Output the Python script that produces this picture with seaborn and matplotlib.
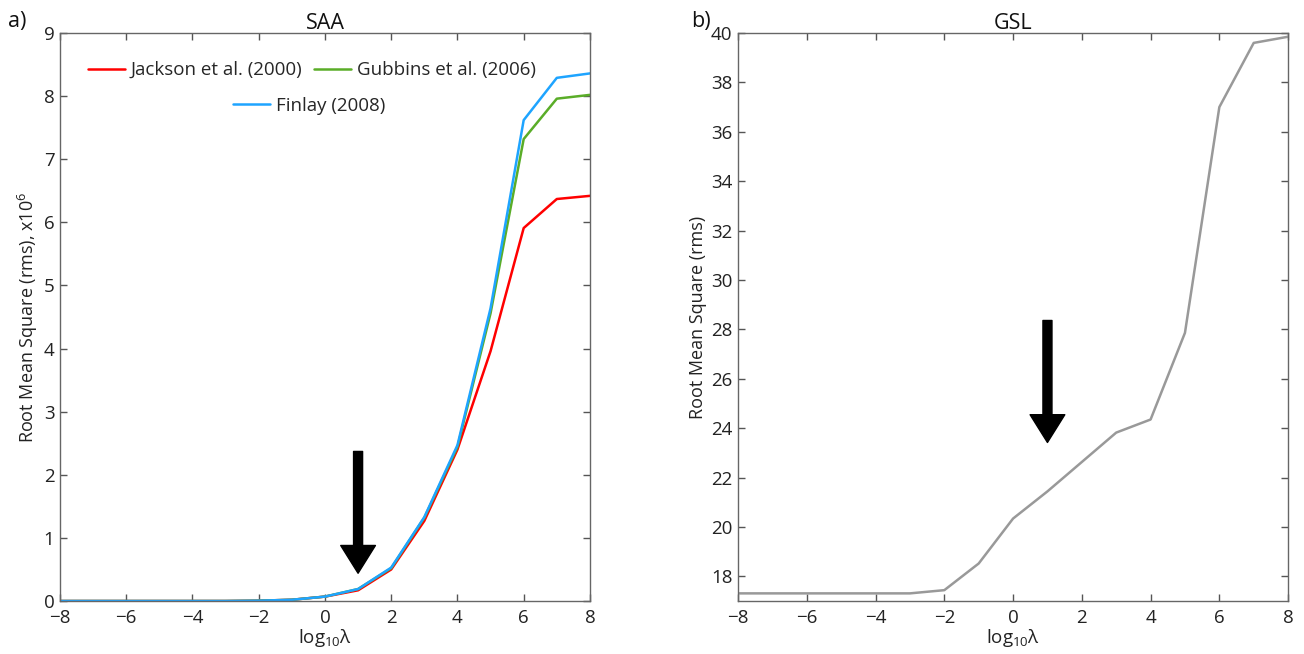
import numpy as np
import pandas as pd
import matplotlib
matplotlib.use('Agg')
import matplotlib.pyplot as plt
import seaborn as sns

# log10(lambda) grid
log_lambda = [-8, -7, -6, -5, -4, -3, -2, -1, 0, 1, 2, 3, 4, 5, 6, 7, 8]

# SAA rms (x10^6) for the three field models
saa_jackson = [0, 0, 0, 0, 0, 0, 0.005, 0.02, 0.07, 0.17, 0.50, 1.27, 2.40, 3.96, 5.91, 6.37, 6.42]
saa_gubbins = [0, 0, 0, 0, 0, 0, 0.005, 0.02, 0.07, 0.19, 0.52, 1.32, 2.44, 4.56, 7.32, 7.96, 8.02]
saa_finlay = [0, 0, 0, 0, 0, 0, 0.005, 0.02, 0.07, 0.19, 0.53, 1.33, 2.47, 4.64, 7.62, 8.29, 8.36]

# GSL rms
gsl_rms = [17.31, 17.31, 17.31, 17.31, 17.31, 17.31, 17.44, 18.52, 20.34, 21.44, 22.63, 23.82, 24.35,
           27.86, 37.0, 39.6, 39.85]

model_names = ['Jackson et al. (2000)', 'Gubbins et al. (2006)', 'Finlay (2008)']
model_colors = ['#ff0000', '#5aad28', '#1ea4ff']

saa = pd.DataFrame({
    'log_lambda': log_lambda * 3,
    'rms': saa_jackson + saa_gubbins + saa_finlay,
    'model': [m for m in model_names for _ in log_lambda],
})
gsl = pd.DataFrame({'log_lambda': log_lambda, 'rms': gsl_rms})

sns.set_style('ticks')
plt.rcParams['font.family'] = ['Open Sans', 'DejaVu Sans']
plt.rcParams['mathtext.fontset'] = 'custom'
plt.rcParams['mathtext.rm'] = 'Open Sans'
plt.rcParams['mathtext.it'] = 'Open Sans'

fig = plt.figure(figsize=(13.04, 6.54), dpi=100)
ax1 = fig.add_axes([0.046, 0.081, 0.4064, 0.8685])
ax2 = fig.add_axes([0.566, 0.081, 0.4218, 0.8685])

sns.lineplot(data=saa, x='log_lambda', y='rms', hue='model', palette=model_colors,
             hue_order=model_names, linewidth=1.8, ax=ax1, legend=False)
sns.lineplot(data=gsl, x='log_lambda', y='rms', color='#999999', linewidth=1.8, ax=ax2)

arrow_style = 'simple,head_length=2.0,head_width=2.5,tail_width=0.65'
ax1.annotate('', xy=(1, 0.44), xytext=(1, 2.37),
             arrowprops=dict(arrowstyle=arrow_style, color='black', mutation_scale=10,
                             shrinkA=0, shrinkB=0))
ax2.annotate('', xy=(1, 23.42), xytext=(1, 28.36),
             arrowprops=dict(arrowstyle=arrow_style, color='black', mutation_scale=10,
                             shrinkA=0, shrinkB=0))

ax1.set_xlim(-8, 8)
ax1.set_ylim(0, 9)
ax1.set_yticks(range(0, 10))
ax2.set_xlim(-8, 8)
ax2.set_ylim(17, 40)
ax2.set_yticks(range(18, 41, 2))

for ax in (ax1, ax2):
    ax.set_xticks(range(-8, 9, 2))
    ax.tick_params(direction='in', top=True, right=True, length=5, width=1,
                   colors='#555555', labelcolor='#222222', labelsize=13.5)
    ax.tick_params(axis='x', pad=6)
    ax.tick_params(axis='y', pad=4)
    for sp in ax.spines.values():
        sp.set_color('#666666')
        sp.set_linewidth(1)
    ax.set_xlabel(r'log$_{10}$λ', fontsize=13.5, color='#222222', labelpad=0)

ax1.set_ylabel(r'Root Mean Square (rms), x10$^6$', fontsize=13, color='#222222', labelpad=3)
ax2.set_ylabel('Root Mean Square (rms)', fontsize=13, color='#222222', labelpad=3)
ax1.set_title('SAA', fontsize=15.5, color='#111111', pad=3)
ax2.set_title('GSL', fontsize=15.5, color='#111111', pad=3)

fig.text(0.006, 0.958, 'a)', fontsize=15.5, color='#111111')
fig.text(0.530, 0.958, 'b)', fontsize=15.5, color='#111111')

lines = ax1.get_lines()
leg1 = ax1.legend(lines[:2], model_names[:2], ncol=2, loc='upper center',
                  bbox_to_anchor=(0.475, 0.98), frameon=False, fontsize=13.5,
                  handlelength=2.0, columnspacing=0.6, handletextpad=0.3)
ax1.add_artist(leg1)
ax1.legend(lines[2:3], model_names[2:3], loc='upper center', bbox_to_anchor=(0.47, 0.917),
           frameon=False, fontsize=13.5, handlelength=2.0, handletextpad=0.3)

fig.savefig('out.png', dpi=100)
